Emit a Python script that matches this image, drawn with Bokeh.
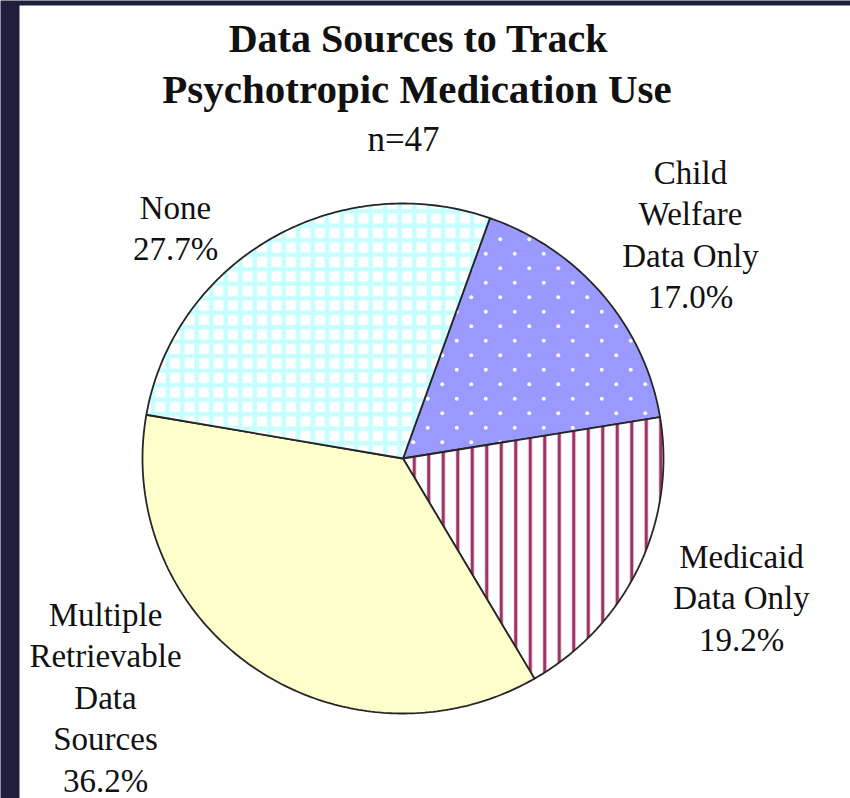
import base64
import numpy as np
from bokeh.plotting import figure
from bokeh.models import Range1d, BoxAnnotation, ImageURLTexture
from bokeh.core.properties import value
from bokeh.embed import file_html
from bokeh.resources import INLINE

# ---- data -------------------------------------------------------------
categories = ["Child\nWelfare\nData Only", "Medicaid\nData Only",
              "Multiple\nRetrievable\nData\nSources", "None"]
percents = [17.0, 19.2, 36.2, 27.7]
title_lines = ["Data Sources to Track", "Psychotropic Medication Use"]
sample_note = "n=47"

# ---- page / canvas ----------------------------------------------------
W, H = 850, 798
p = figure(width=W, height=H, x_range=Range1d(0, W), y_range=Range1d(H, 0),
           output_backend="svg", toolbar_location=None, min_border=0)
p.axis.visible = False
p.grid.visible = False
p.outline_line_color = None
p.background_fill_color = "#1f1f3d"
p.border_fill_color = "#1f1f3d"
p.add_layout(BoxAnnotation(left=19, right=W, top=5, bottom=H, fill_color="white",
                           fill_alpha=1, line_color=None, level="underlay"))

# staggered white dot tile for the child-welfare slice
tile_svg = ('<svg xmlns="http://www.w3.org/2000/svg" width="29" height="29">'
            '<circle cx="7.25" cy="7.25" r="2.0" fill="white" fill-opacity="0.95"/>'
            '<circle cx="21.75" cy="21.75" r="2.0" fill="white" fill-opacity="0.95"/></svg>')
dot_tile = ImageURLTexture(
    url="data:image/svg+xml;base64," + base64.b64encode(tile_svg.encode()).decode(),
    repetition="repeat")

styles = [
    dict(fill_color="#9999ff", hatch_pattern="k", hatch_extra={"k": dot_tile}),
    dict(fill_color="white", hatch_pattern="vertical_line",
         hatch_color="#9e3466", hatch_scale=14.5, hatch_weight=3.3),
    dict(fill_color="#ffffcc"),
    dict(fill_color="white", hatch_pattern="cross",
         hatch_color="#c6ffff", hatch_scale=14.5, hatch_weight=4.5),
]

# ---- pie (slightly elliptical, clockwise from the top) ----------------
cx, cy, rx, ry = 402.5, 458.0, 260.5, 255.0
start_deg = 19.5
frac = np.array(percents) / np.sum(percents)
edges = np.deg2rad(start_deg) + 2 * np.pi * np.concatenate([[0], np.cumsum(frac)])

for i in range(len(percents)):
    a0, a1 = edges[i], edges[i + 1]
    t = np.linspace(a0, a1, max(8, int(400 * frac[i])))
    xs = np.concatenate([[cx], cx + rx * np.sin(t)])
    ys = np.concatenate([[cy], cy - ry * np.cos(t)])
    p.patch(xs, ys, line_color="#262626", line_width=1.8, **styles[i])

# ---- labels -----------------------------------------------------------
serif = value("Liberation Serif")
label_anchor = [(690, 172), (741, 556), (105, 614), (175, 207)]
pitch = 41.5
for (ax, ay), name, pct in zip(label_anchor, categories, percents):
    lines = name.split("\n") + [f"{pct:.1f}%"]
    p.text(x=[ax] * len(lines), y=[ay + k * pitch for k in range(len(lines))],
           text=lines, text_font=serif, text_font_size="33px",
           text_color="#111111", text_align="center", text_baseline="middle")

p.text(x=[418, 416.5], y=[38, 88], text=title_lines, text_font=serif,
       text_font_size=["40px", "41px"], text_font_style="bold", text_color="#111111",
       text_align="center", text_baseline="middle")
p.text(x=[403], y=[139], text=[sample_note], text_font=serif,
       text_font_size="35px", text_color="#111111",
       text_align="center", text_baseline="middle")

open("out.html", "w").write(file_html(p, INLINE))
